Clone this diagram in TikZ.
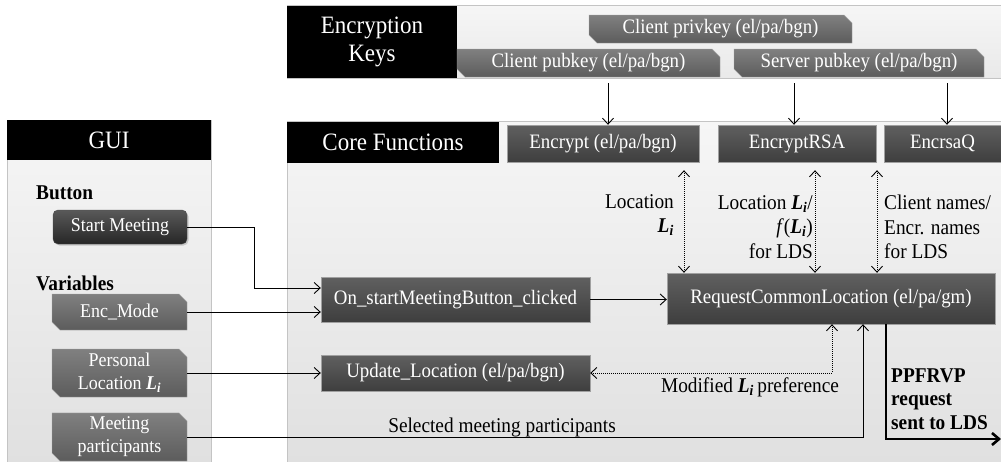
\documentclass[tikz,border=0pt]{standalone}
\usepackage{fontspec}
\setmainfont{Liberation Serif}[FakeStretch=0.92]
\usetikzlibrary{arrows.meta,shapes.misc,shadows}

\definecolor{panelTop}{RGB}{246,246,246}
\definecolor{panelBot}{RGB}{224,224,224}
\definecolor{panelLine}{RGB}{196,196,196}
\definecolor{fnTop}{RGB}{96,96,96}
\definecolor{fnBot}{RGB}{62,62,62}
\definecolor{keyTop}{RGB}{128,128,128}
\definecolor{keyBot}{RGB}{92,92,92}

\tikzset{
  hdbox/.style={fill=black, text=white, inner sep=0pt, align=center,
    font=\fontsize{25}{29}\selectfont},
  fnbox/.style={draw=fnTop!60!white, top color=fnTop, bottom color=fnBot,
    text=white, inner sep=0pt, font=\fontsize{20.5}{23}\selectfont},
  keybox/.style={chamfered rectangle,
    chamfered rectangle corners={north east,south west},
    chamfered rectangle xsep=4pt, chamfered rectangle ysep=4pt,
    draw=keyTop!70!white, top color=keyTop, bottom color=keyBot,
    text=white, inner sep=0pt, align=center, font=\fontsize{20.5}{23}\selectfont},
  btnbox/.style={rounded corners=5pt, draw=black!70, top color=black!65, bottom color=black!85,
    text=white, inner sep=0pt, font=\fontsize{19.5}{22}\selectfont,
    drop shadow={shadow xshift=1.5pt, shadow yshift=-1.5pt, opacity=0.35}},
  lbl/.style={inner sep=0pt, font=\fontsize{21}{24.5}\selectfont},
  arr/.style={-{Straight Barb[length=6pt,width=11pt]}, line width=0.9pt},
  dotarr/.style={{Straight Barb[length=6pt,width=11pt]}-{Straight Barb[length=6pt,width=11pt]},
    line width=0.9pt, dash pattern=on 1pt off 1pt},
  thick arr/.style={-{Straight Barb[length=7pt,width=12pt]}, line width=2.6pt}
}
\newcommand{\Li}{\textbf{\textit{L}\textsubscript{\textit{i}}}}

\begin{document}
\begin{tikzpicture}[x=1pt,y=-1pt]
\useasboundingbox (0,0) rectangle (1001,461);

%Panel: Encryption Keys
\draw [draw=panelLine, top color=panelTop, bottom color=panelBot!70!white] (287,5) rectangle (1003,78);
\node [hdbox, minimum width=170pt, minimum height=72pt] (keyhd) at (372,41.5) {Encryption\\[-1pt]Keys};
\node [keybox, minimum width=263pt, minimum height=28pt] (privkey) at (720.5,29) {Client privkey (el/pa/bgn)};
\node [keybox, minimum width=263pt, minimum height=28pt] (clientpub) at (588.5,63) {Client pubkey (el/pa/bgn)};
\node [keybox, minimum width=250pt, minimum height=28pt] (serverpub) at (859,63) {Server pubkey (el/pa/bgn)};

%Panel: Core Functions
\draw [draw=panelLine, top color=panelTop, bottom color=panelBot] (287,121) rectangle (1003,463);
\node [hdbox, minimum width=212pt, minimum height=41pt] (corehd) at (393,142.5) {Core Functions};

%Panel: GUI
\draw [draw=panelLine, top color=panelTop, bottom color=panelBot] (7,120) rectangle (211,463);
\node [hdbox, minimum width=204pt, minimum height=40pt] (guihd) at (109,140) {GUI};

%Core function boxes
\node [fnbox, minimum width=192pt, minimum height=37pt] (encrypt) at (603,143.5) {Encrypt (el/pa/bgn)};
\node [fnbox, minimum width=158pt, minimum height=37pt] (encrsa) at (797,143.5) {EncryptRSA};
\node [fnbox, minimum width=117pt, minimum height=37pt] (encrsaq) at (942.5,143.5) {EncrsaQ};
\node [fnbox, minimum width=269pt, minimum height=45pt] (onstart) at (455.5,299.5) {On\_startMeetingButton\_clicked};
\node [fnbox, minimum width=328pt, minimum height=51pt] (request) at (831,298.5) {RequestCommonLocation (el/pa/gm)};
\node [fnbox, minimum width=269pt, minimum height=36pt] (update) at (455.5,373) {Update\_Location (el/pa/bgn)};

%GUI items
\node [anchor=west, lbl, font=\fontsize{21}{24}\selectfont\bfseries] (btnlbl) at (36,193) {Button};
\node [btnbox, minimum width=134pt, minimum height=34pt] (startbtn) at (120,227) {Start Meeting};
\node [anchor=west, lbl, font=\fontsize{21}{24}\selectfont\bfseries] (varlbl) at (36,283) {Variables};
\node [keybox, minimum width=135pt, minimum height=36pt, font=\fontsize{19.5}{22}\selectfont] (encmode) at (119.5,312) {Enc\_Mode};
\node [keybox, minimum width=135pt, minimum height=48pt, font=\fontsize{19.5}{23}\selectfont] (personal) at (119.5,373) {Personal\\Location \Li};
\node [keybox, minimum width=135pt, minimum height=46pt, font=\fontsize{19.5}{23}\selectfont] (meeting) at (119.5,437) {Meeting\\participants};

%Key arrows
\coordinate (ka) at ([xshift=19.5pt,yshift=-6pt]clientpub.south);
\coordinate (kb) at ([xshift=-65pt,yshift=-6pt]serverpub.south);
\coordinate (kc) at ([xshift=88pt,yshift=-6pt]serverpub.south);
\draw [arr] (ka) -- (ka |- encrypt.north);
\draw [arr] (kb) -- (kb |- encrsa.north);
\draw [arr] (kc) -- (kc |- encrsaq.north);

%Dotted exchanges with the request
\coordinate (da) at ([xshift=81pt,yshift=-8pt]encrypt.south);
\coordinate (db) at ([xshift=18pt,yshift=-8pt]encrsa.south);
\coordinate (dc) at ([xshift=-65.5pt,yshift=-8pt]encrsaq.south);
\draw [dotarr] (da) -- (da |- request.north);
\draw [dotarr] (db) -- (db |- request.north);
\draw [dotarr] (dc) -- (dc |- request.north);
\draw [dotarr] ([xshift=1pt]request.south) |- (update.east);

%GUI to core
\draw [arr] (startbtn.east) -- ++(67,0) |- ([yshift=11.5pt]onstart.west);
\draw [arr] (encmode.east) -- (encmode.east -| onstart.west);
\draw [arr] (personal.east) -- (update.west);
\draw [arr] (onstart.east) -- (onstart.east -| request.west);
\coordinate (selin) at ([xshift=32pt]request.south);
\draw [arr] (meeting.east) -| (selin);

%Request sent out
\coordinate (ppout) at ([xshift=55pt]request.south);
\coordinate (lds) at (1001,439);
\draw [thick arr] (ppout) |- (lds);

% Text Node
\node [lbl, anchor=east, align=right] (lblA) at (674,215) {Location\\\Li};
% Text Node
\node [lbl, anchor=east, align=right] (lblB) at (813,227) {Location \Li/\\\textit{f}(\Li)\\for LDS};
% Text Node
\node [lbl, anchor=west, align=left] (lblC) at (884,227) {Client names/\\Encr. names\\for LDS};
% Text Node
\node [lbl] (lblD) at (750,387) {Modified \Li\,preference};
% Text Node
\node [lbl] (lblE) at (502,427) {Selected meeting participants};
% Text Node
\node [lbl, anchor=west, align=left, font=\fontsize{21}{23.5}\selectfont\bfseries] (lblF) at (891,399) {PPFRVP\\request\\sent to LDS};

\end{tikzpicture}
\end{document}
